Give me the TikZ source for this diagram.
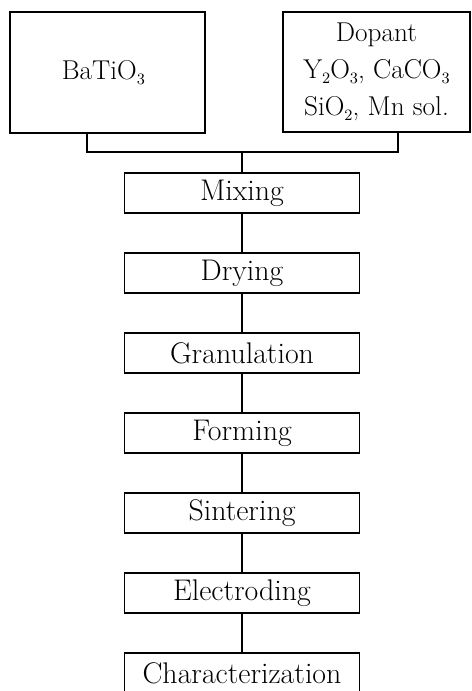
\documentclass[tikz,border=0pt]{standalone}
\usepackage{xcolor}
\usepackage{tikz}
\usetikzlibrary{
calc,
positioning
}
\newcommand{\chemsub}[1]{\raisebox{-.4ex}{\fontsize{9}{9}\selectfont #1}}
\tikzset{
stage/.style={
draw,
line width=.75pt,
minimum width=4.7cm,
minimum height=.8cm,
inner sep=0pt,
font=\fontsize{17}{20}\selectfont
},
source/.style={
draw,
line width=.75pt,
inner sep=0pt,
align=center,
font=\fontsize{15.5}{21}\selectfont
},
link/.style={
line width=.75pt
}
}

\begin{document}
\begin{tikzpicture}[x=.02cm,y=-.02cm]

\useasboundingbox (0,0) rectangle (471,691);

\node[
source,
minimum width=3.9cm,
minimum height=2.42cm
]
(batio)
at (107.5,72.5)
{
BaTiO\chemsub{3}
};

\node[
source,
minimum width=3.74cm,
minimum height=2.4cm
]
(dopant)
at (376.5,72)
{
Dopant\\
Y\chemsub{2}O\chemsub{3}, CaCO\chemsub{3}\\
SiO\chemsub{2}, Mn sol.
};

\node[stage] (mixing) at (242,193) {Mixing};
\node[stage] (drying) at (242,273) {Drying};
\node[stage] (granulation) at (242,353) {Granulation};
\node[stage] (forming) at (242,433) {Forming};
\node[stage] (sintering) at (242,513) {Sintering};
\node[stage] (electroding) at (242,593) {Electroding};
\node[stage] (charact) at (242,673) {Characterization};

% joining the two raw materials
\coordinate (join) at (242,152);
\draw[link] (batio.south -| 87,0) |- (join) -| (dopant.south -| 398,0);
\draw[link] (join) -- (mixing.north);

\foreach \a/\b in {mixing/drying,drying/granulation,granulation/forming,forming/sintering,sintering/electroding,electroding/charact}
\draw[link] (\a) -- (\b);

\end{tikzpicture}
\end{document}
